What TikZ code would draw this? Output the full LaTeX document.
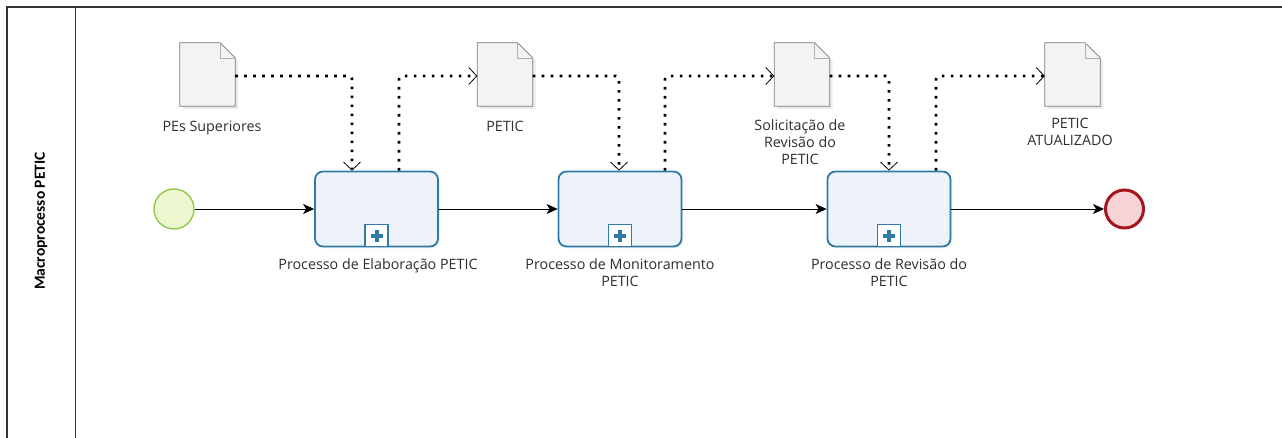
\documentclass[tikz,border=0pt]{standalone}
\usepackage{fontspec}
\setmainfont{Open Sans}
\newfontfamily\lanefont{Carlito}
\usetikzlibrary{arrows.meta,shadows,calc}
\definecolor{taskdraw}{HTML}{2F7BA5}
\definecolor{taskfill}{HTML}{EEF3FB}
\definecolor{startdraw}{HTML}{8DC63F}
\definecolor{startfill}{HTML}{EDF7CF}
\definecolor{enddraw}{HTML}{A3161E}
\definecolor{endfill}{HTML}{F6D3D6}
\definecolor{docfill}{HTML}{F3F3F3}
\definecolor{docdraw}{HTML}{7A7A7A}
\definecolor{txt}{HTML}{2E2E2E}
\tikzset{
  task/.style={draw=taskdraw, line width=1.8pt, fill=taskfill, rounded corners=8pt,
    minimum width=123pt, minimum height=75pt, inner sep=0pt,
    drop shadow={opacity=0.12, shadow xshift=2pt, shadow yshift=-2pt}},
  submarker/.style={draw=taskdraw, line width=1.5pt, fill=white, minimum width=23pt,
    minimum height=22pt, inner sep=0pt, anchor=south},
  startev/.style={circle, draw=startdraw, line width=1.3pt, fill=startfill,
    minimum size=40pt, inner sep=0pt},
  endev/.style={circle, draw=enddraw, line width=3pt, fill=endfill,
    minimum size=38pt, inner sep=0pt},
  docbox/.style={minimum width=55pt, minimum height=63pt, inner sep=0pt},
  docshape/.style={draw=docdraw, line width=0.8pt, fill=docfill},
  lbl/.style={font=\fontsize{14.3}{17}\selectfont, text=txt, align=center, inner sep=0pt},
  seq/.style={line width=0.9pt, -{Stealth[length=11pt,width=10pt,inset=3pt]}},
  assoc/.style={line width=2.6pt, dash pattern=on 2.6pt off 6.4pt, rounded corners=3pt,
    -{Straight Barb[length=8pt,width=17pt,line width=0.8pt]}},
}
\newcommand\docobj[3]{%
  \node[docbox] (#1) at (#2,#3) {};
  \fill[black, opacity=0.08] ($(#1.north west)+(3,3)$) -- ($(#1.north east)+(-12,3)$)
     -- ($(#1.north east)+(3,18)$) -- ($(#1.south east)+(3,3)$) -- ($(#1.south west)+(3,3)$) -- cycle;
  \draw[docshape] (#1.north west) -- ($(#1.north east)+(-15,0)$) -- ($(#1.north east)+(0,15)$)
     -- (#1.south east) -- (#1.south west) -- cycle;
  \draw[docdraw!60, line width=0.5pt] ($(#1.north east)+(-15,0)$) -- ($(#1.north east)+(-15,15)$) -- ($(#1.north east)+(0,15)$);
}
\newcommand\plusmark[1]{%
  \fill[taskdraw] ($(#1.center)+(-6,-2)$) rectangle ($(#1.center)+(6,2)$);
  \fill[taskdraw] ($(#1.center)+(-2,-6)$) rectangle ($(#1.center)+(2,6)$);
}
\begin{document}
\begin{tikzpicture}[x=1pt,y=-1pt]
\useasboundingbox[fill=white] (0,0) rectangle (1282,438);
% pool
\draw[line width=1.1pt, black!80] (1282,7) -- (7,7) -- (7,438);
\draw[line width=0.9pt, black!80] (75,7) -- (75,438);
\node[rotate=90, font=\lanefont\bfseries\fontsize{15.5}{18}\selectfont] (lane) at (41,221) {Macroprocesso PETIC};
% events
\node[startev] (s) at (174,209) {};
\node[endev] (e) at (1124.5,209) {};
% tasks
\node[task] (t1) at (376.5,209) {};
\node[task] (t2) at (620,209) {};
\node[task] (t3) at (889,209) {};
\node[submarker] (m1) at (t1.south) {};
\node[submarker] (m2) at (t2.south) {};
\node[submarker] (m3) at (t3.south) {};
\plusmark{m1}\plusmark{m2}\plusmark{m3}
% task labels
\node[lbl, anchor=north] (lt1) at (378,258) {Processo de  Elaboração PETIC};
\node[lbl, anchor=north] (lt2) at (620,258) {Processo de Monitoramento\\PETIC};
\node[lbl, anchor=north] (lt3) at (889,258) {Processo de Revisão do\\PETIC};
% data objects
\docobj{d1}{207.5}{74.5}
\docobj{d2}{505}{74.5}
\docobj{d3}{802}{74.5}
\docobj{d4}{1072.5}{74.5}
\node[lbl, anchor=north] (ld1) at (212,121) {PEs Superiores};
\node[lbl, anchor=north] (ld2) at (505,121) {PETIC};
\node[lbl, anchor=north] (ld3) at (800,119) {Solicitação de\\Revisão do\\PETIC};
\node[lbl, anchor=north] (ld4) at (1070,118) {PETIC\\ATUALIZADO};
% sequence flows
\draw[seq] (s) -- (t1);
\draw[seq] (t1) -- (t2);
\draw[seq] (t2) -- (t3);
\draw[seq] (t3) -- (e);
% associations
\draw[assoc] ([yshift=-1.5]d1.east) -| ([xshift=-24.5]t1.north);
\draw[assoc] ([xshift=22.5]t1.north) |- ([yshift=-1.5]d2.west);
\draw[assoc] ([yshift=-1.5]d2.east) -| ([xshift=-1]t2.north);
\draw[assoc] ([xshift=45]t2.north) |- ([yshift=-1.5]d3.west);
\draw[assoc] ([yshift=-1.5]d3.east) -| (t3.north);
\draw[assoc] ([xshift=47]t3.north) |- ([yshift=-1.5]d4.west);
\end{tikzpicture}
\end{document}
